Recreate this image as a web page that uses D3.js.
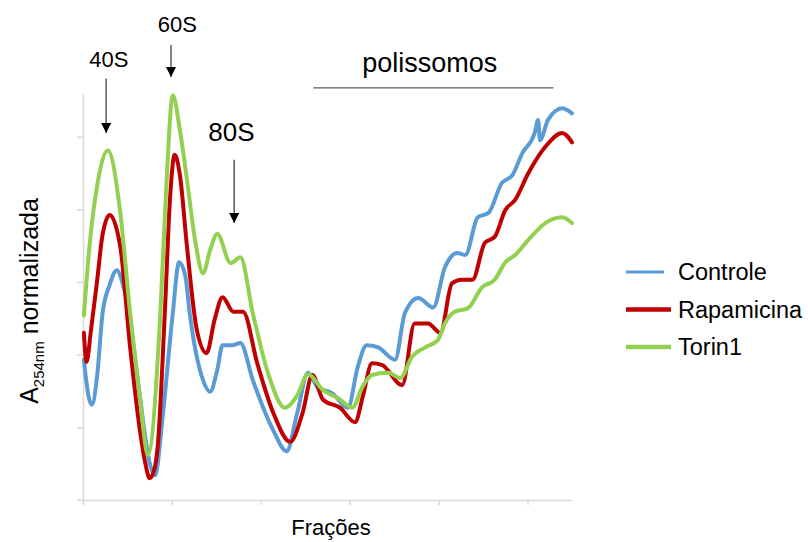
<!DOCTYPE html>
<html>
<head>
<meta charset="utf-8">
<script src="https://cdn.jsdelivr.net/npm/d3@7.9.0/dist/d3.min.js"></script>
<style>
  body { margin: 0; background: #fff; }
  svg { font-family: "Liberation Sans", Arial, sans-serif; }
</style>
</head>
<body>
<svg width="808" height="542"></svg>
<script>
// [fraction, absorbance]
const controle = [[0.01,1.93],[0.06,1.44],[0.10,1.31],[0.16,1.72],[0.22,2.57],[0.30,2.96],[0.38,3.16],[0.45,2.96],[0.53,2.48],[0.64,1.42],[0.75,0.51],[0.81,0.34],[0.90,1.20],[1.01,2.57],[1.08,3.27],[1.15,3.09],[1.20,2.57],[1.35,1.65],[1.43,1.49],[1.51,1.79],[1.57,2.13],[1.68,2.13],[1.77,2.16],[1.91,1.65],[2.14,0.96],[2.29,0.67],[2.41,1.20],[2.53,1.75],[2.64,1.55],[2.80,1.47],[2.98,1.27],[3.09,1.83],[3.19,2.13],[3.32,2.10],[3.51,1.93],[3.62,2.57],[3.77,2.78],[3.94,2.65],[4.07,3.20],[4.21,3.40],[4.30,3.37],[4.44,3.89],[4.56,3.95],[4.71,4.36],[4.83,4.47],[4.94,4.77],[5.08,5.05],[5.12,5.23],[5.14,4.95],[5.23,5.23],[5.39,5.39],[5.50,5.32]];
const rapamicina = [[0.01,2.30],[0.04,1.90],[0.09,2.34],[0.16,3.03],[0.22,3.65],[0.30,3.92],[0.42,3.48],[0.53,2.10],[0.64,0.96],[0.70,0.51],[0.75,0.30],[0.80,0.41],[0.84,0.73],[0.92,2.57],[0.98,4.17],[1.03,4.75],[1.09,4.47],[1.17,3.48],[1.28,2.34],[1.39,2.02],[1.48,2.48],[1.57,2.79],[1.69,2.59],[1.80,2.59],[1.96,1.88],[2.14,1.20],[2.33,0.80],[2.47,1.20],[2.58,1.72],[2.70,1.38],[2.89,1.27],[3.06,1.07],[3.15,1.44],[3.25,1.88],[3.36,1.86],[3.59,1.58],[3.73,2.43],[3.88,2.43],[4.02,2.30],[4.15,2.98],[4.26,3.03],[4.38,3.03],[4.52,3.54],[4.63,3.62],[4.75,3.99],[4.86,4.13],[5.01,4.50],[5.20,4.86],[5.39,5.05],[5.50,4.92]];
const torin1 = [[0.01,2.54],[0.08,3.58],[0.16,4.33],[0.28,4.81],[0.42,3.95],[0.53,2.57],[0.64,1.42],[0.73,0.62],[0.87,2.57],[0.94,4.40],[1.01,5.57],[1.09,5.09],[1.17,4.40],[1.26,3.58],[1.35,3.12],[1.43,3.44],[1.51,3.66],[1.66,3.26],[1.77,3.34],[1.91,2.57],[2.08,1.75],[2.27,1.27],[2.41,1.44],[2.53,1.73],[2.70,1.51],[2.87,1.40],[3.03,1.27],[3.14,1.55],[3.25,1.72],[3.43,1.75],[3.57,1.68],[3.70,1.97],[3.85,2.10],[3.99,2.20],[4.07,2.43],[4.18,2.59],[4.33,2.64],[4.49,2.93],[4.63,3.03],[4.75,3.27],[4.86,3.37],[5.01,3.58],[5.20,3.81],[5.39,3.89],[5.50,3.81]];

const seriesNames = ['Controle', 'Rapamicina', 'Torin1'];
const seriesData = [controle, rapamicina, torin1];
const seriesColors = ['#5b9bd5', '#c00000', '#92d050'];

const xTicks = [0, 1, 2, 3, 4, 5];
const yTicks = [1, 2, 3, 4, 5];

// peak markers: label, arrow x, label x, label y, arrow tail y, arrow tip y
const peakLabels = ['40S', '60S', '80S'];
const peakX = [0.26, 0.99, 1.70];
const peakLabelX = [0.29, 1.06, 1.67];
const peakLabelY = [5.96, 6.44, 4.94];
const peakTailY = [5.80, 6.26, 4.68];
const peakTipY = [5.05, 5.82, 3.81];
const peakFont = [22, 22, 26];

const svg = d3.select('svg');

const x = d3.scaleLinear().domain([0, 5.5]).range([83, 572]);
const y = d3.scaleLinear().domain([0, 5.6]).range([500, 93]);

// axes
const yAxis = svg.append('g')
  .attr('transform', `translate(${x(0)},0)`)
  .call(d3.axisLeft(y).tickValues(yTicks).tickSize(6).tickSizeOuter(0).tickFormat(''));
const xAxis = svg.append('g')
  .attr('transform', `translate(0,${y(0)})`)
  .call(d3.axisBottom(x).tickValues(xTicks).tickSize(5).tickSizeOuter(0).tickFormat(''));
[yAxis, xAxis].forEach(a => {
  a.selectAll('path, line').attr('stroke', '#d9d9d9').attr('stroke-width', 1.5);
});
svg.append('line')
  .attr('x1', x(0) - 6).attr('x2', x(0))
  .attr('y1', y(0)).attr('y2', y(0))
  .attr('stroke', '#d9d9d9').attr('stroke-width', 1.5);

// curves
const line = d3.line()
  .x(d => x(d[0]))
  .y(d => y(d[1]))
  .curve(d3.curveMonotoneX);

seriesData.forEach((data, i) => {
  svg.append('path')
    .datum(data)
    .attr('d', line)
    .attr('fill', 'none')
    .attr('stroke', seriesColors[i])
    .attr('stroke-width', 4)
    .attr('stroke-linejoin', 'round')
    .attr('stroke-linecap', 'round');
});

// arrow head
svg.append('defs').append('marker')
  .attr('id', 'arrow')
  .attr('viewBox', '0 0 10 10')
  .attr('refX', 10).attr('refY', 5)
  .attr('markerWidth', 10).attr('markerHeight', 10)
  .attr('markerUnits', 'userSpaceOnUse')
  .attr('orient', 'auto')
  .append('path')
  .attr('d', 'M0,0L10,5L0,10Z')
  .attr('fill', '#000');

peakLabels.forEach((lab, i) => {
  svg.append('line')
    .attr('x1', x(peakX[i])).attr('x2', x(peakX[i]))
    .attr('y1', y(peakTailY[i])).attr('y2', y(peakTipY[i]))
    .attr('stroke', '#404040').attr('stroke-width', 1.3)
    .attr('marker-end', 'url(#arrow)');
  svg.append('text')
    .attr('x', x(peakLabelX[i]))
    .attr('y', y(peakLabelY[i]))
    .attr('text-anchor', 'middle')
    .attr('font-size', peakFont[i])
    .attr('fill', '#000')
    .text(lab);
});

// polysome bracket
svg.append('line')
  .attr('x1', x(2.59)).attr('x2', x(5.29))
  .attr('y1', y(5.67)).attr('y2', y(5.67))
  .attr('stroke', '#595959').attr('stroke-width', 1.3);
svg.append('text')
  .attr('x', x(3.90)).attr('y', y(5.89))
  .attr('text-anchor', 'middle')
  .attr('font-size', 27)
  .text('polissomos');

// axis titles
svg.append('text')
  .attr('x', 331).attr('y', 535)
  .attr('text-anchor', 'middle')
  .attr('font-size', 22)
  .text('Frações');

const yt = svg.append('text')
  .attr('transform', 'translate(38,301) rotate(-90)')
  .attr('text-anchor', 'middle')
  .attr('font-size', 25);
yt.append('tspan').text('A');
yt.append('tspan').attr('font-size', 15).attr('dy', 6).text('254nm');
yt.append('tspan').attr('dy', -6).text(' normalizada');

// legend
const legend = svg.append('g');
seriesNames.forEach((name, i) => {
  const ly = 272 + i * 37.5;
  legend.append('line')
    .attr('x1', 626).attr('x2', i === 0 ? 664 : 671)
    .attr('y1', ly).attr('y2', ly)
    .attr('stroke', seriesColors[i])
    .attr('stroke-width', i === 0 ? 3 : 4.5);
  legend.append('text')
    .attr('x', 678).attr('y', ly)
    .attr('dominant-baseline', 'central')
    .attr('font-size', 23.5)
    .text(name);
});
</script>
</body>
</html>
